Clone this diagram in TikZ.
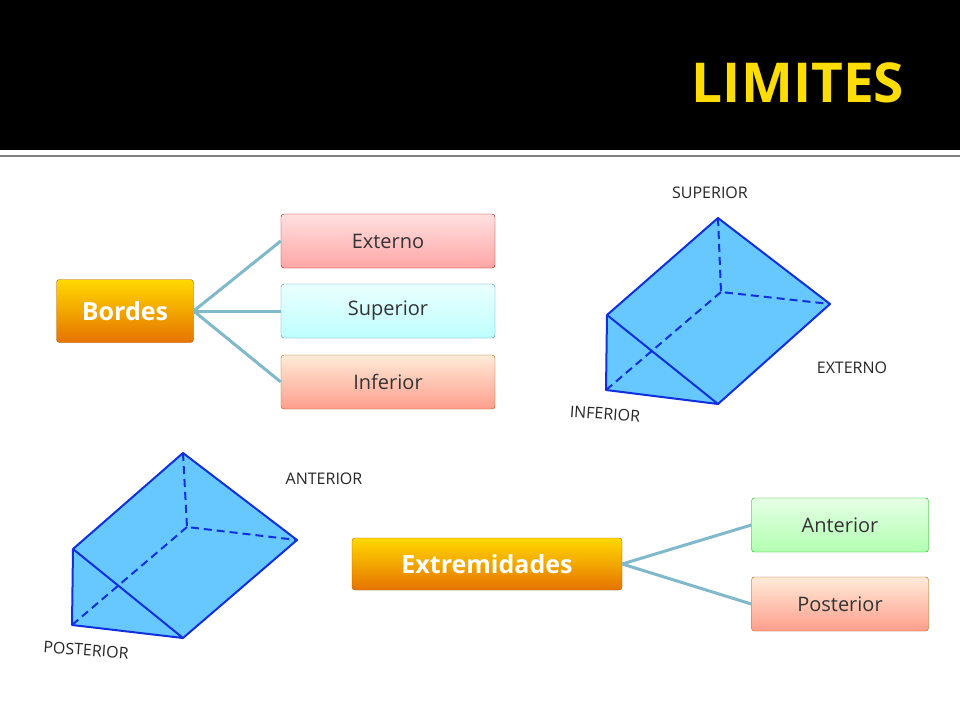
\documentclass[tikz,border=0pt]{standalone}
\usepackage{fontspec}
\setmainfont{Open Sans}
\definecolor{prism}{HTML}{66C8FF}
\definecolor{pedge}{HTML}{1030E0}
\definecolor{connc}{HTML}{80B8CC}
\begin{document}
\begin{tikzpicture}[x=1pt,y=-1pt,
 bx/.style={draw=#1!70!black,rounded corners=3pt,minimum width=214pt,minimum height=54pt,font=\fontsize{20}{20}\selectfont,text=black!80},
 mainbx/.style={top color=yellow!70!orange,bottom color=orange!90!black,draw=orange!70!black,rounded corners=3pt,text=white,font=\fontsize{25}{25}\selectfont\bfseries},
 conn/.style={draw=connc,line width=3pt},
 lbl/.style={font=\fontsize{16}{16}\selectfont,text=black!85},
 pe/.style={draw=pedge,line width=2pt,line join=round},
 pd/.style={pe,dash pattern=on 8pt off 5pt}]
\useasboundingbox (0,0) rectangle (960,720);
\fill[white] (0,0) rectangle (960,720);
\fill[black] (0,0) rectangle (960,150);
\draw[gray,line width=2pt] (0,156) -- (960,156);
\node[font=\fontsize{55}{55}\selectfont\bfseries,text=yellow!80!orange] (title) at (798,83) {LIMITES};
% Bordes
\node[mainbx,minimum width=137pt,minimum height=63pt] (bordes) at (125,311) {Bordes};
\node[bx=red,top color=red!12,bottom color=red!35] (ext) at (388,241) {Externo};
\node[bx=cyan,top color=cyan!8,bottom color=cyan!25] (sup) at (388,311) {Superior};
\node[bx=orange,top color=orange!15,bottom color=orange!30!red!45] (inf) at (388,382) {Inferior};
\foreach \n in {ext,sup,inf} \draw[conn] (bordes.east) -- (\n.west);
% Extremidades
\node[mainbx,minimum width=270pt,minimum height=52pt] (extr) at (487,564) {Extremidades};
\node[bx=green,minimum width=177pt,top color=green!10,bottom color=green!30] (ant) at (840,525) {Anterior};
\node[bx=orange,minimum width=177pt,top color=orange!15,bottom color=orange!30!red!45] (post) at (840,604) {Posterior};
\foreach \n in {ant,post} \draw[conn] (extr.east) -- (\n.west);
% prism 1
\coordinate (T) at (718,218); \coordinate (M) at (721,292); \coordinate (R) at (830,304);
\coordinate (L) at (607,315); \coordinate (BL) at (606,390); \coordinate (B) at (718,404);
\fill[prism] (T) -- (R) -- (B) -- (BL) -- (L) -- cycle;
\draw[pd] (T) -- (M) -- (R) (M) -- (BL);
\draw[pe] (L) -- (T) -- (R) -- (B) -- (BL) -- (L) -- (B);
\node[lbl] (lsup) at (710,193) {SUPERIOR};
\node[lbl] (lext) at (852,368) {EXTERNO};
\node[lbl,rotate=-4] (linf) at (605,414) {INFERIOR};
% prism 2
\coordinate (T2) at (183,453); \coordinate (M2) at (187,527); \coordinate (R2) at (297,540);
\coordinate (L2) at (73,549); \coordinate (BL2) at (72,625); \coordinate (B2) at (183,638);
\fill[prism] (T2) -- (R2) -- (B2) -- (BL2) -- (L2) -- cycle;
\draw[pd] (T2) -- (M2) -- (R2) (M2) -- (BL2);
\draw[pe] (L2) -- (T2) -- (R2) -- (B2) -- (BL2) -- (L2) -- (B2);
\node[lbl] (lant) at (324,479) {ANTERIOR};
\node[lbl,rotate=-4] (lpost) at (86,650) {POSTERIOR};
\end{tikzpicture}
\end{document}
